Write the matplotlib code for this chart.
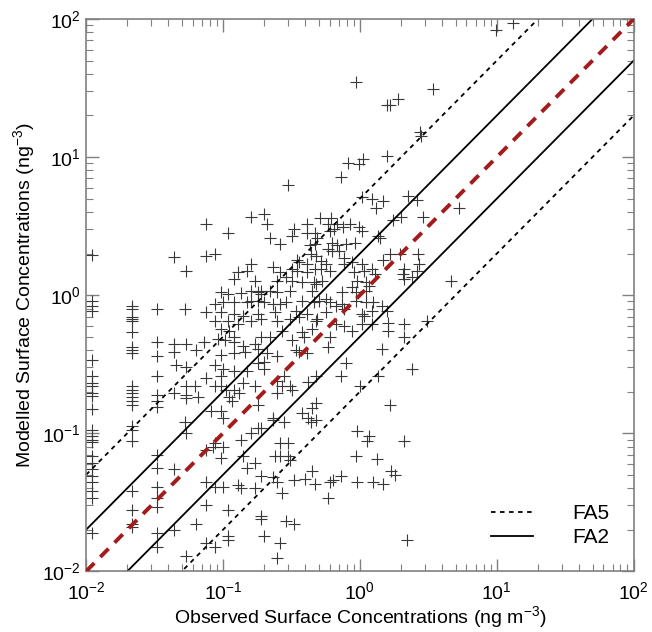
import matplotlib
matplotlib.use('Agg')
import matplotlib.pyplot as plt
import numpy as np

plt.rcParams['font.family'] = ['Liberation Sans', 'DejaVu Sans']
plt.rcParams['mathtext.fontset'] = 'custom'
plt.rcParams['mathtext.rm'] = 'Liberation Sans'
plt.rcParams['mathtext.it'] = 'Liberation Sans:italic'

# Observed / modelled pairs (ng m-3)
obs_high = [9.8, 13.1, 3.4, 1.57, 1.65, 1.9, 0.94, 2.75, 2.8, 1.58, 0.82, 0.98, 1.05, 0.73, 0.30,
            1.03, 1.23, 1.48, 1.3, 2.25, 2.6, 2.9, 2.0, 1.75, 5.3, 0.2, 0.21, 0.22, 0.26]
mod_high = [83, 94, 31, 24, 24, 26.5, 35, 15.2, 14.3, 10.1, 9.1, 8.9, 9.7, 7.2, 6.3,
            5.1, 5.0, 4.8, 4.3, 5.2, 4.9, 3.7, 3.7, 3.5, 4.3, 3.9, 3.3, 2.6, 2.35]

obs_mid = [0.51, 0.62, 0.58, 0.68, 0.41, 0.33, 0.32, 0.41, 0.47, 0.49, 0.47, 0.43, 0.6, 0.65, 0.75,
           0.84, 0.98, 1.04, 1.35, 1.4, 0.63, 0.68, 0.79, 0.92, 0.58, 0.63, 0.7, 0.44, 0.48, 0.52,
           0.57, 0.35, 0.36, 0.23, 0.26, 0.32, 0.35, 0.41, 0.47, 0.52, 0.25, 0.29, 0.32, 0.38, 0.46,
           0.53, 0.76, 0.88, 0.76, 0.9, 1.03, 1.07, 1.22, 0.95, 1.1, 1.29, 0.19, 0.22, 0.25, 0.31,
           0.45, 0.48, 0.74, 0.88, 0.93, 1.16, 1.1, 1.67, 1.95, 2.65, 1.47, 2.1, 2.7, 2.05, 2.4,
           2.6, 2.1, 4.6, 0.41, 0.6]
mod_mid = [3.6, 3.6, 3.3, 3.3, 3.3, 3.0, 2.7, 2.8, 2.8, 2.6, 2.35, 2.3, 2.9, 3.0, 3.1,
           3.3, 3.1, 2.9, 2.7, 2.6, 2.4, 2.3, 2.35, 2.4, 2.15, 2.1, 2.1, 1.98, 1.93, 1.77,
           1.68, 1.79, 1.73, 1.59, 1.46, 1.54, 1.5, 1.46, 1.54, 1.54, 1.27, 1.35, 1.27, 1.24, 1.24,
           1.27, 1.87, 1.75, 1.68, 1.46, 1.68, 1.5, 1.54, 1.27, 1.24, 1.42, 1.08, 1.08, 1.05, 1.08,
           1.08, 1.2, 1.05, 1.14, 1.05, 1.17, 1.08, 2.0, 2.0, 1.98, 1.79, 1.54, 1.68, 1.42, 1.35,
           1.5, 1.3, 1.26, 1.68, 1.5]

obs_left = [0.011, 0.044, 0.075, 0.108, 0.075, 0.087, 0.054, 0.16, 0.16, 0.128, 0.12, 0.15, 0.17,
            0.097, 0.108, 0.135, 0.16, 0.18, 0.19, 0.087, 0.1, 0.16, 0.26, 0.5, 0.6]
mod_left = [1.95, 1.9, 3.3, 2.8, 1.93, 2.0, 1.5, 3.7, 1.68, 1.46, 1.3, 1.5, 1.27,
            1.05, 1.02, 1.03, 1.08, 1.05, 1.02, 0.86, 0.89, 0.91, 0.86, 0.91, 0.89]

# stations with obs at the detection limit columns
mod_col1 = [0.91, 0.84, 0.77, 0.34, 0.26, 0.23, 0.22, 0.195, 0.187, 0.15, 0.106, 0.095, 0.09,
            0.087, 0.068, 0.061, 0.055, 0.049, 0.044, 0.038, 0.034, 0.019]
mod_col2 = [0.84, 0.79, 0.69, 0.67, 0.65, 0.54, 0.42, 0.40, 0.38, 0.22, 0.206, 0.195, 0.184,
            0.17, 0.16, 0.106, 0.088, 0.112, 0.038, 0.028, 0.022, 0.021]
mod_col3 = [0.79, 0.46, 0.36, 0.26, 0.19, 0.17, 0.156, 0.07, 0.056, 0.041, 0.034, 0.029, 0.019, 0.015]
obs_cols = [0.011, 0.0215, 0.033]

obs_low = [0.044, 0.044, 0.045, 0.044, 0.044, 0.044,
           0.053, 0.054, 0.054, 0.054, 0.054, 0.054, 0.053, 0.054, 0.054,
           0.064, 0.075, 0.087, 0.073, 0.087, 0.075, 0.062, 0.066, 0.087, 0.105, 0.082,
           0.12, 0.15, 0.18, 0.097, 0.12, 0.14, 0.18, 0.19, 0.108, 0.128, 0.16, 0.097, 0.11,
           0.12, 0.092, 0.103, 0.12, 0.14, 0.17, 0.19, 0.097, 0.12, 0.145, 0.18, 0.1, 0.12, 0.15,
           0.18, 0.2, 0.097, 0.14, 0.17, 0.12, 0.13, 0.11, 0.117, 0.18, 0.097, 0.097, 0.1, 0.135,
           0.16, 0.18, 0.087]
mod_low = [0.44, 0.39, 0.31, 0.195, 0.055, 0.02,
           0.79, 0.44, 0.30, 0.22, 0.19, 0.18, 0.12, 0.1, 0.013,
           0.40, 0.75, 0.65, 0.46, 0.31, 0.25, 0.22, 0.184, 0.22, 0.206, 0.144,
           0.89, 0.89, 0.91, 0.75, 0.73, 0.71, 0.73, 0.67, 0.65, 0.62, 0.65, 0.57, 0.55,
           0.5, 0.48, 0.47, 0.46, 0.43, 0.44, 0.5, 0.37, 0.38, 0.39, 0.41, 0.29, 0.28, 0.28,
           0.32, 0.33, 0.26, 0.23, 0.22, 0.206, 0.195, 0.184, 0.17, 0.16, 0.22, 0.144, 0.129, 0.09,
           0.1, 0.11, 0.085]

obs_centre = [0.2, 0.23, 0.29, 0.38, 0.46, 0.57, 0.74, 0.93, 0.24, 0.34, 0.41, 0.49, 0.57, 0.67,
              0.76, 1.1, 1.25, 1.22, 1.45, 0.25, 0.31, 0.36, 0.48, 0.67, 0.76, 0.88, 1.03, 1.07,
              1.22, 1.57, 1.61, 1.61, 2.1, 2.1, 3.1, 0.22, 0.27, 0.32, 0.38, 0.39, 0.45, 0.6, 0.58,
              0.21, 0.25, 0.34, 0.36, 0.41, 1.45, 0.2, 0.79, 2.4, 0.25, 0.28, 0.31, 0.27, 0.32,
              0.25, 0.42, 0.48, 0.73, 1.0, 1.35, 0.48, 0.45, 0.38, 0.42, 0.44, 0.48, 0.23, 0.23,
              0.28, 0.19, 1.67, 0.95, 1.16, 1.13, 2.1, 0.26, 0.3, 1.03]
mod_centre = [0.89, 0.86, 0.89, 0.91, 0.89, 0.94, 0.86, 0.91, 0.75, 0.77, 0.73, 0.67, 0.75, 0.84,
              0.79, 0.89, 0.89, 0.77, 0.84, 0.65, 0.67, 0.69, 0.65, 0.62, 0.6, 0.55, 0.62, 0.71,
              0.62, 0.77, 0.63, 0.55, 0.62, 0.5, 0.65, 0.5, 0.55, 0.47, 0.54, 0.5, 0.57, 0.5, 0.42,
              0.38, 0.36, 0.4, 0.39, 0.38, 0.41, 0.29, 0.32, 0.29, 0.24, 0.26, 0.22, 0.22, 0.206,
              0.195, 0.236, 0.26, 0.26, 0.22, 0.26, 0.165, 0.152, 0.14, 0.13, 0.12, 0.125, 0.13, 0.125,
              0.12, 0.11, 0.16, 0.103, 0.095, 0.088, 0.088, 0.085, 0.085, 0.73]

obs_bottom = [0.93, 1.33, 1.7, 1.8, 0.95, 1.25, 1.47, 2.2,
              0.24, 0.26, 0.3, 0.31, 0.19, 0.23, 0.25, 0.27, 0.33, 0.4, 0.45, 0.47, 0.6, 0.64,
              0.73, 0.58, 0.19, 0.19, 0.29, 0.33, 0.2, 0.26, 0.25,
              0.075, 0.084, 0.1, 0.097, 0.14, 0.15, 0.17, 0.075, 0.087, 0.1, 0.128, 0.135, 0.17,
              0.075, 0.108, 0.064, 0.108, 0.108, 0.075, 0.087]
mod_bottom = [0.068, 0.065, 0.053, 0.05, 0.044, 0.044, 0.043, 0.017,
              0.068, 0.068, 0.068, 0.064, 0.049, 0.048, 0.044, 0.037, 0.046, 0.047, 0.053, 0.043,
              0.044, 0.046, 0.049, 0.034, 0.025, 0.024, 0.023, 0.022, 0.018, 0.016, 0.0125,
              0.076, 0.08, 0.08, 0.066, 0.068, 0.056, 0.061, 0.044, 0.041, 0.041, 0.042, 0.04, 0.04,
              0.03, 0.028, 0.022, 0.018, 0.017, 0.016, 0.015]

observed = np.concatenate([obs_high, obs_mid, obs_left,
                           [obs_cols[0]] * len(mod_col1), [obs_cols[1]] * len(mod_col2),
                           [obs_cols[2]] * len(mod_col3), obs_low, obs_centre, obs_bottom])
modelled = np.concatenate([mod_high, mod_mid, mod_left, mod_col1, mod_col2, mod_col3,
                           mod_low, mod_centre, mod_bottom])

AXIS_LIMITS = [1e-2, 1e2]
line_x = np.array(AXIS_LIMITS)

fig = plt.figure(figsize=(6.52, 6.32), dpi=100)
ax = fig.add_axes([0.132, 0.096, 0.840, 0.874])

ax.plot(observed, modelled, linestyle='none', marker='+', markersize=9,
        markeredgewidth=0.8, color='#383838', zorder=2)

# factor-of-5 and factor-of-2 envelopes, 1:1 line
ax.plot(line_x, line_x * 5, color='black', linewidth=1.3, linestyle=(0, (2.5, 2.5)), label='FA5')
ax.plot(line_x, line_x / 5, color='black', linewidth=1.3, linestyle=(0, (2.5, 2.5)))
ax.plot(line_x, line_x * 2, color='black', linewidth=1.3, label='FA2')
ax.plot(line_x, line_x / 2, color='black', linewidth=1.3)
ax.plot(line_x, line_x, color='#a31b1b', linewidth=2.8, linestyle=(0, (3, 2.2)), zorder=3)

ax.set_xscale('log')
ax.set_yscale('log')
ax.set_xlim(AXIS_LIMITS)
ax.set_ylim(AXIS_LIMITS)

for side in ax.spines.values():
    side.set_color('#808080')
    side.set_linewidth(1.2)
ax.tick_params(which='both', direction='in', top=True, right=True, colors='#808080',
               labelcolor='black', labelsize=14)
ax.tick_params(which='major', length=9, width=1.0)
ax.tick_params(which='minor', length=5, width=0.8)
ax.tick_params(axis='x', pad=7)

ax.set_xlabel('Observed Surface Concentrations (ng m$^{-3}$)', fontsize=14, labelpad=1)
ax.set_ylabel('Modelled Surface Concentrations (ng$^{-3}$)', fontsize=14)

ax.legend(loc='lower right', frameon=False, fontsize=15, handlelength=2.0,
          handletextpad=1.9, labelspacing=0.25, bbox_to_anchor=(0.99, 0.01))

fig.savefig('out.png', dpi=100)
